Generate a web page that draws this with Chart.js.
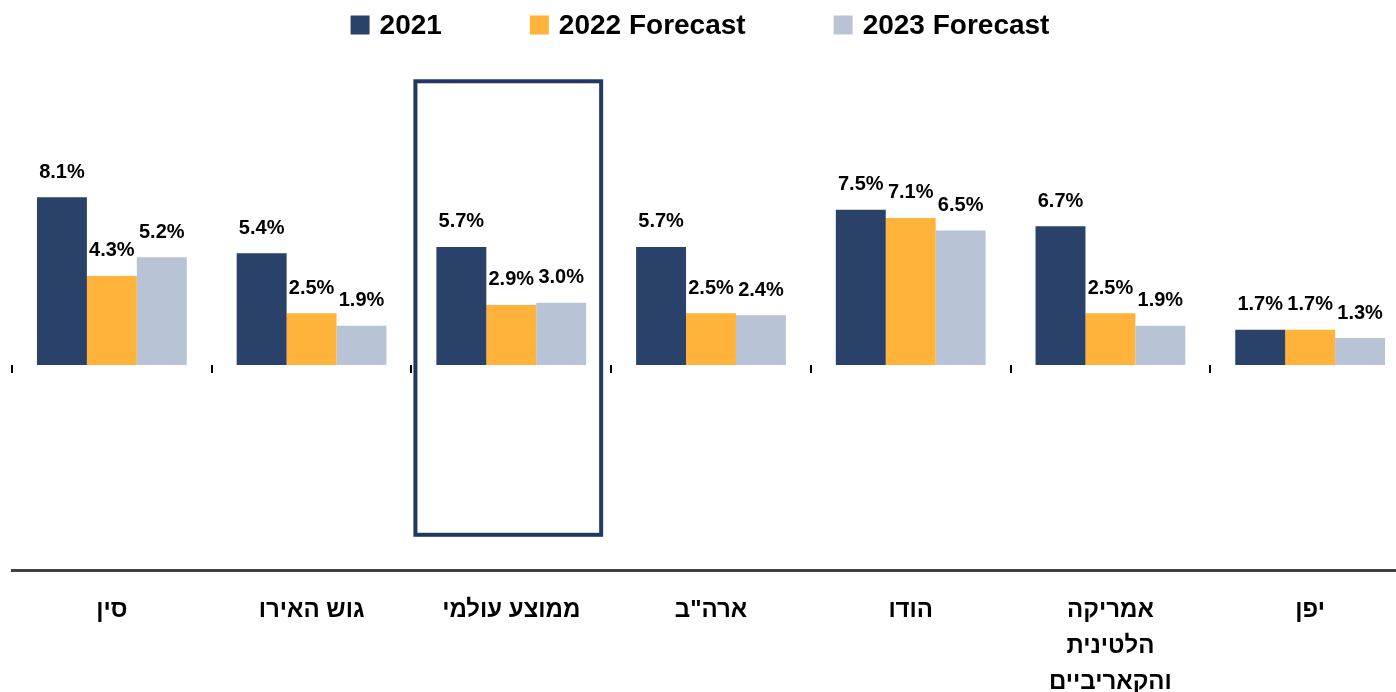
<!DOCTYPE html>
<html>
<head>
<meta charset="utf-8">
<script src="https://cdn.jsdelivr.net/npm/chart.js@4"></script>
<style>
  body { margin: 0; overflow: hidden; background: #fff; }
  #wrap { width: 1410px; height: 722px; }
</style>
</head>
<body>
<div id="wrap"><canvas id="growthChart"></canvas></div>
<script>
const categories = ['סין', 'גוש האירו', 'ממוצע עולמי', 'ארה"ב', 'הודו', ['אמריקה', 'הלטינית', 'והקאריביים'], 'יפן'];
const seriesNames = ['2021', '2022 Forecast', '2023 Forecast'];
const values2021 = [8.1, 5.4, 5.7, 5.7, 7.5, 6.7, 1.7];
const values2022 = [4.3, 2.5, 2.9, 2.5, 7.1, 2.5, 1.7];
const values2023 = [5.2, 1.9, 3.0, 2.4, 6.5, 1.9, 1.3];
const highlightIndex = 2;

const colors = ['#2A4169', '#FFB33A', '#B8C3D5'];
const FONT = "'Liberation Sans', Arial, sans-serif";

document.addEventListener('DOMContentLoaded', function() {
    // value labels above each bar
    const valueLabels = {
        id: 'valueLabels',
        afterDatasetsDraw(chart) {
            const ctx = chart.ctx;
            ctx.save();
            ctx.font = 'bold 20px ' + FONT;
            ctx.fillStyle = '#000';
            ctx.textAlign = 'center';
            ctx.textBaseline = 'middle';
            chart.data.datasets.forEach((ds, i) => {
                chart.getDatasetMeta(i).data.forEach((bar, j) => {
                    ctx.fillText(ds.data[j].toFixed(1) + '%', bar.x, bar.y - 25);
                });
            });
            ctx.restore();
        }
    };

    // small tick marks on the zero line at category boundaries
    const zeroTicks = {
        id: 'zeroTicks',
        afterDraw(chart) {
            const ctx = chart.ctx;
            const x = chart.scales.x, y = chart.scales.y;
            const y0 = y.getPixelForValue(0);
            const half = (x.getPixelForValue(1) - x.getPixelForValue(0)) / 2;
            ctx.save();
            ctx.strokeStyle = '#000';
            ctx.lineWidth = 2;
            categories.forEach((c, i) => {
                const px = Math.round(x.getPixelForValue(i) - half);
                ctx.beginPath();
                ctx.moveTo(px, y0);
                ctx.lineTo(px, y0 + 8);
                ctx.stroke();
            });
            ctx.restore();
        }
    };

    // frame around the world average group
    const highlight = {
        id: 'highlight',
        afterDraw(chart) {
            const ctx = chart.ctx;
            const x = chart.scales.x, y = chart.scales.y;
            const half = (x.getPixelForValue(1) - x.getPixelForValue(0)) * 0.465;
            const cx = x.getPixelForValue(highlightIndex) - 3;
            const top = y.getPixelForValue(13.7);
            const bottom = y.getPixelForValue(-8.2);
            ctx.save();
            ctx.strokeStyle = '#1F3864';
            ctx.lineWidth = 4;
            ctx.strokeRect(cx - half, top, half * 2, bottom - top);
            ctx.restore();
        }
    };

    // legend row at the top
    const topLegend = {
        id: 'topLegend',
        afterDraw(chart) {
            const ctx = chart.ctx;
            const box = 19, gap = 10, spacing = 88, cy = 25;
            ctx.save();
            ctx.font = 'bold 28px ' + FONT;
            ctx.textBaseline = 'middle';
            ctx.textAlign = 'left';
            const widths = seriesNames.map(n => box + gap + ctx.measureText(n).width);
            const total = widths.reduce((a, b) => a + b, 0) + spacing * (widths.length - 1);
            let px = 700 - total / 2;
            seriesNames.forEach((n, i) => {
                ctx.fillStyle = colors[i];
                ctx.fillRect(px, cy - box / 2, box, box);
                ctx.fillStyle = '#000';
                ctx.fillText(n, px + box + gap, cy + 1);
                px += widths[i] + spacing;
            });
            ctx.restore();
        }
    };

    const ctx1 = document.getElementById('growthChart').getContext('2d');
    const growthChart = new Chart(ctx1, {
        type: 'bar',
        data: {
            labels: categories,
            datasets: [
                { label: seriesNames[0], data: values2021, backgroundColor: colors[0] },
                { label: seriesNames[1], data: values2022, backgroundColor: colors[1] },
                { label: seriesNames[2], data: values2023, backgroundColor: colors[2] }
            ]
        },
        options: {
            responsive: true,
            maintainAspectRatio: false,
            animation: false,
            layout: { padding: { top: 73, left: 12, right: 0, bottom: 0 } },
            datasets: { bar: { categoryPercentage: 0.75, barPercentage: 1.0 } },
            plugins: {
                legend: { display: false },
                tooltip: { enabled: false }
            },
            scales: {
                x: {
                    grid: { display: false, drawTicks: false },
                    border: { display: true, color: '#404040', width: 3 },
                    ticks: {
                        color: '#000',
                        padding: 22,
                        maxRotation: 0,
                        font: { family: FONT, size: 24, weight: 'bold', lineHeight: 1.5 }
                    }
                },
                y: {
                    display: false,
                    min: -9.9,
                    max: 14.1
                }
            }
        },
        plugins: [valueLabels, zeroTicks, highlight, topLegend]
    });
});
</script>
</body>
</html>
